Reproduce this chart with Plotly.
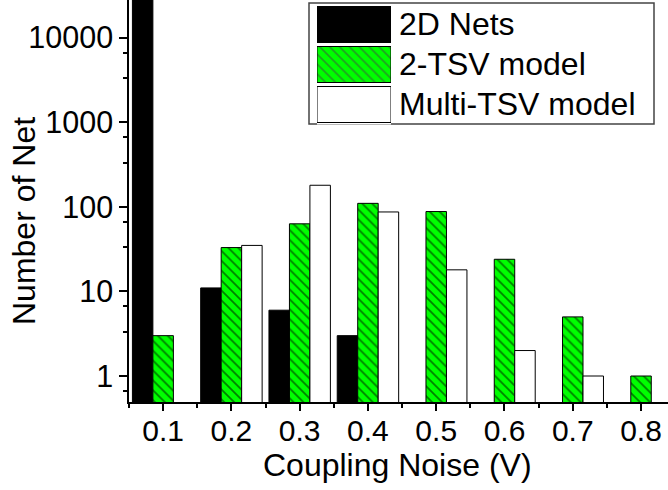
import plotly.graph_objects as go

# Coupling noise bins (V) and net counts per model
noise = [0.1, 0.2, 0.3, 0.4, 0.5, 0.6, 0.7, 0.8]
tick_text = ["0.1", "0.2", "0.3", "0.4", "0.5", "0.6", "0.7", "0.8"]
nets_2d = [30000, 11, 6, 3, None, None, None, None]
tsv_2 = [3, 33, 63, 110, 88, 24, 5, 1]
tsv_multi = [None, 35, 180, 87, 18, 2, 1, None]

series_names = ["2D Nets", "2-TSV model", "Multi-TSV model"]
y_tickvals = [1, 10, 100, 1000, 10000]
y_ticktext = ["1", "10", "100", "1000", "10000"]
# minor ticks at one and two thirds of each decade
y_minor = [m * 10 ** k for k in range(0, 5) for m in (0.6667, 3.333, 6.667)]
x_minor = [0.05, 0.15, 0.25, 0.35, 0.45, 0.55, 0.65, 0.75]

FONT = "Liberation Sans, Arial, sans-serif"
GREEN = "#00ff00"
hatch = dict(shape="\\", fgcolor="black", bgcolor=GREEN, size=7, solidity=0.25)

W, H = 668, 490
L, R, T, B = 129, 0, 0, 88
PW, PH = W - L - R, H - T - B


def px_x(p):
    return (p - L) / PW


def px_y(p):
    return (H - B - p) / PH


fig = go.Figure()
fig.add_trace(go.Bar(x=noise, y=nets_2d, name=series_names[0],
                     marker=dict(color="black", line=dict(color="black", width=1))))
fig.add_trace(go.Bar(x=noise, y=tsv_2, name=series_names[1],
                     marker=dict(color=GREEN, pattern=hatch, line=dict(color="black", width=1))))
fig.add_trace(go.Bar(x=noise, y=tsv_multi, name=series_names[2],
                     marker=dict(color="white", line=dict(color="black", width=1))))

# legend key swatches drawn as bars on their own small axes
fig.add_trace(go.Bar(
    x=[1, 1, 1], y=series_names, orientation="h", xaxis="x2", yaxis="y2",
    showlegend=False, hoverinfo="skip",
    marker=dict(color=["black", GREEN, "white"],
                pattern=dict(shape=["", "\\", ""], fgcolor="black", bgcolor=GREEN,
                             size=7, solidity=0.25),
                line=dict(color="black", width=1)),
))

fig.update_layout(
    width=W, height=H,
    margin=dict(l=L, r=R, t=T, b=B),
    paper_bgcolor="white", plot_bgcolor="white",
    barmode="group", bargap=0.1, bargroupgap=0,
    showlegend=False,
    font=dict(family=FONT, color="black"),
    xaxis=dict(
        range=[0.05, 0.8395], tickvals=noise, ticktext=tick_text,
        showgrid=False, zeroline=False, showline=True, linecolor="black", linewidth=1.5,
        ticks="outside", ticklen=7, tickwidth=1.5, tickcolor="black",
        ticklabelstandoff=-6,
        tickfont=dict(size=30, family=FONT),
        minor=dict(tickvals=x_minor, ticks="outside", ticklen=4, tickwidth=1.5,
                   tickcolor="black", showgrid=False),
    ),
    yaxis=dict(
        type="log", range=[-0.3074, 4.4457],
        tickvals=y_tickvals, ticktext=y_ticktext,
        showgrid=False, zeroline=False, showline=True, linecolor="black", linewidth=1.5,
        ticks="outside", ticklen=8, tickwidth=1.5, tickcolor="black",
        tickfont=dict(size=30.5, family=FONT),
        minor=dict(tickvals=y_minor, ticks="outside", ticklen=4, tickwidth=1.5,
                   tickcolor="black", showgrid=False),
    ),
    xaxis2=dict(domain=[px_x(317), px_x(391)], range=[0, 1], anchor="y2",
                visible=False, fixedrange=True),
    yaxis2=dict(domain=[px_y(124.5), px_y(4.5)], anchor="x2", autorange="reversed",
                visible=False, fixedrange=True),
)

# legend frame
fig.add_shape(type="rect", xref="paper", yref="paper",
              x0=px_x(309), x1=px_x(654), y0=px_y(124), y1=px_y(3),
              line=dict(color="#444444", width=1.5), fillcolor="white", layer="below")

# legend labels
for name, yc in zip(series_names, [24, 64, 104.5]):
    fig.add_annotation(text=name, xref="paper", yref="paper", x=px_x(397), y=px_y(yc),
                       xanchor="left", yanchor="middle", showarrow=False,
                       font=dict(size=32, family=FONT, color="black"))

# axis titles
fig.add_annotation(text="Coupling Noise (V)", xref="paper", yref="paper",
                   x=px_x(397), y=px_y(465), xanchor="center", yanchor="middle",
                   showarrow=False, font=dict(size=32, family=FONT, color="black"))
fig.add_annotation(text="Number of Net", xref="paper", yref="paper",
                   x=px_x(24), y=px_y(221), xanchor="center", yanchor="middle",
                   textangle=-90, showarrow=False,
                   font=dict(size=32, family=FONT, color="black"))

fig.write_html("out.html")
